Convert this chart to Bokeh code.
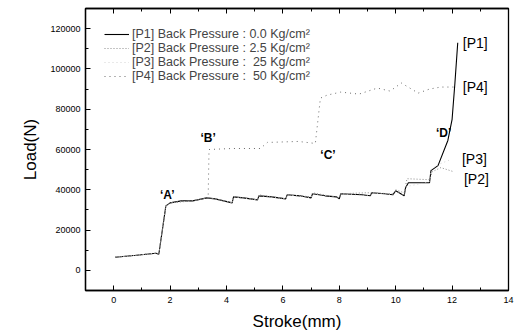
from bokeh.plotting import figure
from bokeh.models import (Range1d, LinearAxis, SingleIntervalTicker, BasicTickFormatter,
                          CustomJSTickFormatter, Legend, LegendItem, ColumnDataSource)
from bokeh.core.properties import value
from bokeh.embed import file_html
from bokeh.resources import INLINE

# ---- data ----
p1_x = [0.05, 0.8, 1.5, 1.6, 1.85, 2.0, 2.4, 2.8, 3.3, 3.6, 4.2, 4.25, 4.6, 5.1, 5.15, 5.6, 6.1,
        6.15, 6.6, 7.0, 7.05, 7.5, 7.9, 8.0, 8.05, 8.8, 9.1, 9.15, 9.6, 9.9, 10.0, 10.3, 10.35,
        10.45, 11.2, 11.25, 11.5, 11.85, 12.0, 12.1, 12.2]
p1_y = [6500, 7500, 8500, 8000, 32000, 33500, 34500, 34500, 36000, 35500, 33500, 36500, 36000,
        35000, 37000, 36500, 35500, 37500, 37000, 36000, 38000, 37000, 36500, 35500, 38000, 37500,
        37000, 38500, 38000, 37500, 39500, 37000, 41000, 43500, 43500, 49500, 52000, 64500, 75000,
        93000, 113000]

p2_x = [0.05, 0.8, 1.5, 1.6, 1.85, 2.0, 2.8, 3.3, 3.6, 4.2, 4.25, 5.1, 5.15, 6.1, 6.15, 7.0,
        7.05, 8.0, 8.05, 8.9, 9.15, 9.9, 10.0, 10.3, 10.4, 11.2, 11.3, 11.6, 12.05]
p2_y = [6500, 7500, 8500, 8000, 32000, 33500, 34500, 36000, 35500, 33500, 36500, 35000, 37500,
        35500, 37500, 36500, 38500, 36000, 38000, 38500, 38500, 38000, 40000, 38500, 45500,
        45000, 49000, 51000, 49000]

p3_x = [0.05, 0.8, 1.5, 1.6, 1.85, 2.0, 2.8, 3.3, 3.6, 4.2, 4.25, 5.1, 5.15, 6.1, 6.15, 7.0,
        7.05, 8.0, 8.05, 9.1, 9.15, 9.9, 10.0, 10.3, 10.35, 11.2, 11.25, 11.5, 11.95]
p3_y = [6500, 7500, 8500, 8000, 32000, 33500, 34500, 36000, 35500, 33500, 36500, 35000, 37000,
        35500, 37500, 36000, 38000, 36500, 38000, 37000, 38500, 37500, 39500, 37000, 41500,
        44000, 50000, 52500, 55000]

p4_x = [0.05, 0.8, 1.5, 1.6, 1.85, 2.0, 2.4, 2.8, 3.35, 3.38, 4.2, 5.2, 5.45, 6.55, 7.15,
        7.33, 7.57, 8.05, 8.7, 9.35, 9.8, 10.2, 10.8, 11.2, 11.6, 12.13]
p4_y = [6500, 7500, 8500, 8000, 32000, 33500, 34500, 34500, 36000, 60000, 60500, 60500, 63500,
        64000, 63000, 85500, 87000, 88500, 87500, 90500, 89000, 93000, 88000, 90000, 91000, 91000]

series_labels = ["[P1] Back Pressure : 0.0 Kg/cm\u00b2",
                 "[P2] Back Pressure : 2.5 Kg/cm\u00b2",
                 "[P3] Back Pressure :  25 Kg/cm\u00b2",
                 "[P4] Back Pressure :  50 Kg/cm\u00b2"]

point_names = ["\u2018A\u2019", "\u2018B\u2019", "\u2018C\u2019", "\u2018D\u2019"]
point_x = [1.9, 3.35, 7.6, 11.7]
point_y = [37500, 65500, 57500, 68000]

end_names = ["[P1]", "[P4]", "[P3]", "[P2]"]
end_x = [12.38, 12.38, 12.35, 12.42]
end_y = [113000, 91000, 55500, 45500]

FONT = "Liberation Sans"

p = figure(width=516, height=333, output_backend="svg", toolbar_location=None,
           x_range=Range1d(-1, 14), y_range=Range1d(-10000, 130000),
           min_border_left=85, min_border_right=8, min_border_top=8, min_border_bottom=4)
p.xaxis.visible = False
p.yaxis.visible = False
p.xgrid.visible = False
p.ygrid.visible = False
p.outline_line_color = "black"
p.outline_line_width = 1.3

xt = SingleIntervalTicker(interval=2, num_minor_ticks=2)
yt = SingleIntervalTicker(interval=20000, num_minor_ticks=2)

def style_axis(ax):
    ax.axis_line_color = "black"
    ax.axis_line_width = 1.3
    ax.major_tick_in = 5
    ax.major_tick_out = 0
    ax.minor_tick_in = 3
    ax.minor_tick_out = 0
    ax.major_tick_line_color = "black"
    ax.minor_tick_line_color = "black"
    ax.major_label_text_font = FONT
    ax.major_label_text_font_size = "9px"
    ax.major_label_text_color = "black"
    ax.axis_label_text_font = FONT
    ax.axis_label_text_font_style = "normal"
    ax.axis_label_text_font_size = "17px"
    ax.axis_label_text_color = "black"

xb = LinearAxis(ticker=xt, axis_label="Stroke(mm)")
style_axis(xb)
xb.major_label_standoff = 6
xb.axis_label_standoff = 6
p.add_layout(xb, "below")

yl = LinearAxis(ticker=yt, axis_label="Load(N)", formatter=BasicTickFormatter(use_scientific=False))
style_axis(yl)
yl.major_label_standoff = 5
yl.axis_label_standoff = 7
p.add_layout(yl, "left")

xa = LinearAxis(ticker=xt, formatter=CustomJSTickFormatter(code="return ''"))
style_axis(xa)
xa.major_label_standoff = 0
p.add_layout(xa, "above")

r1 = p.line(p1_x, p1_y, line_color="black", line_width=1.1)
r2 = p.line(p2_x, p2_y, line_color="#8a8a8a", line_width=1.0, line_dash="1 2")
r3 = p.line(p3_x, p3_y, line_color="#c8c8c8", line_width=0.8, line_dash="1 3")
r4 = p.line(p4_x, p4_y, line_color="#6a6a6a", line_width=1.0, line_dash="1 4")

legend = Legend(items=[LegendItem(label=series_labels[0], renderers=[r1]),
                       LegendItem(label=series_labels[1], renderers=[r2]),
                       LegendItem(label=series_labels[2], renderers=[r3]),
                       LegendItem(label=series_labels[3], renderers=[r4])],
                location="top_left", margin=19, padding=0, spacing=-3,
                glyph_width=25, glyph_height=12, label_height=12, label_standoff=3,
                label_text_font=FONT, label_text_font_size="12.5px",
                background_fill_alpha=0, border_line_alpha=0)
p.add_layout(legend)

psrc = ColumnDataSource(dict(x=point_x, y=point_y, t=point_names))
p.text(x="x", y="y", text="t", source=psrc, text_font=value(FONT), text_font_size="12px",
       text_font_style="bold", text_align="center", text_baseline="middle", text_color="black")

esrc = ColumnDataSource(dict(x=end_x, y=end_y, t=end_names))
p.text(x="x", y="y", text="t", source=esrc, text_font=value(FONT), text_font_size="14px",
       text_align="left", text_baseline="middle", text_color="black")

open("out.html", "w").write(file_html(p, INLINE))
